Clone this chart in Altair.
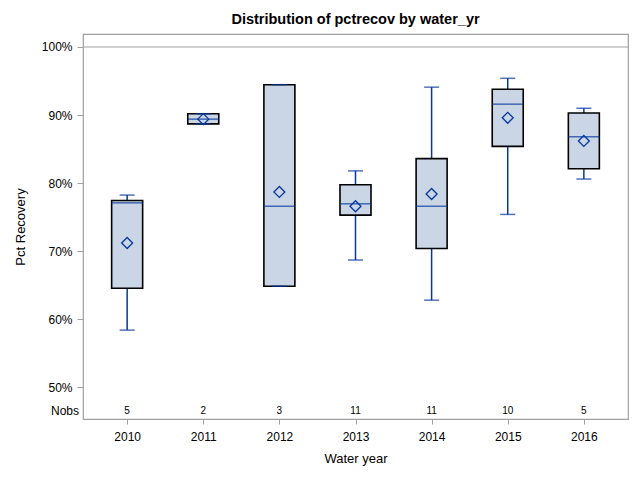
import altair as alt
import pandas as pd

years = ["2010", "2011", "2012", "2013", "2014", "2015", "2016"]
mins = [58.4, 88.7, 64.85, 68.7, 62.8, 75.4, 80.6]
q1s = [64.56, 88.7, 64.85, 75.3, 70.4, 85.4, 82.1]
medians = [77.1, 89.4, 76.6, 76.96, 76.6, 91.6, 86.8]
q3s = [77.44, 90.2, 94.46, 79.75, 83.6, 93.8, 90.3]
maxs = [78.24, 90.2, 94.46, 81.8, 94.1, 95.4, 91.0]
means = [71.2, 89.4, 78.7, 76.6, 78.4, 89.6, 86.2]
nobs = [5, 2, 3, 11, 11, 10, 5]
ytick_values = [50, 60, 70, 80, 90, 100]
ref_values = [100]

BLUE = "#05389e"
FILL = "#cad5e5"
GRAY = "#a0a0a0"
FONT = "Liberation Sans"

df = pd.DataFrame({
    "year": years, "min": mins, "q1": q1s, "median": medians,
    "q3": q3s, "max": maxs, "mean": means, "nobs": nobs,
})
ref = pd.DataFrame({"ref": ref_values})

xscale = alt.Scale(type="point", padding=0.58)
yscale = alt.Scale(domain=[45.34, 101.91], nice=False, zero=False)

x = alt.X("year:O", scale=xscale, sort=years,
          axis=alt.Axis(title="Water year", labelAngle=0, labelFontSize=12,
                        titleFontSize=13, titleFontWeight="normal",
                        tickColor=GRAY, tickSize=5, labelPadding=7,
                        titlePadding=10, domain=False, labelColor="black",
                        titleColor="black"))
y_axis = alt.Axis(title="Pct Recovery", values=ytick_values,
                  labelExpr="datum.value + '%'", grid=False, labelFontSize=12,
                  titleFontSize=13, titleFontWeight="normal", tickColor=GRAY,
                  tickSize=6, labelPadding=5, titlePadding=14, domain=False,
                  labelColor="black", titleColor="black")

base = alt.Chart(df)

refline = alt.Chart(ref).mark_rule(color=GRAY, strokeWidth=1).encode(
    y=alt.Y("ref:Q", scale=yscale, axis=y_axis)
)

whisk_low = base.mark_rule(color=BLUE, strokeWidth=1.5).encode(
    x=x, y=alt.Y("min:Q", scale=yscale), y2="q1:Q")
whisk_high = base.mark_rule(color=BLUE, strokeWidth=1.5).encode(
    x=x, y=alt.Y("q3:Q", scale=yscale), y2="max:Q")

box = base.mark_bar(size=31, fill=FILL, stroke="black", strokeWidth=1.6).encode(
    x=x, y=alt.Y("q1:Q", scale=yscale), y2="q3:Q")

median = base.mark_tick(size=31, thickness=1.5, color=BLUE).encode(
    x=x, y=alt.Y("median:Q", scale=yscale))

cap_low = base.mark_tick(size=15, thickness=1.5, color=BLUE).encode(
    x=x, y=alt.Y("min:Q", scale=yscale))
cap_high = base.mark_tick(size=15, thickness=1.5, color=BLUE).encode(
    x=x, y=alt.Y("max:Q", scale=yscale))

mean = base.mark_point(shape="diamond", filled=False, size=120, color=BLUE,
                       strokeWidth=1.3, opacity=1).encode(
    x=x, y=alt.Y("mean:Q", scale=yscale))

nobs_text = base.mark_text(fontSize=10, font=FONT, color="black").encode(
    x=x, y=alt.value(377), text="nobs:Q")

nobs_label = alt.Chart(ref).mark_text(fontSize=12, font=FONT, color="black",
                                       align="right").encode(
    x=alt.value(-4), y=alt.value(377), text=alt.value("Nobs"))

chart = alt.layer(
    refline, whisk_low, whisk_high, box, median, cap_low, cap_high, mean,
    nobs_text, nobs_label
).properties(
    width=545, height=385,
    title=alt.TitleParams("Distribution of pctrecov by water_yr", fontSize=14.5,
                          fontWeight="bold", font=FONT, anchor="middle",
                          offset=7, color="black"),
    autosize=alt.AutoSizeParams(type="none"),
    padding={"left": 75, "top": 26, "right": 4, "bottom": 52},
).configure(
    font=FONT,
).configure_view(
    stroke=GRAY, strokeWidth=1.2
).configure_axis(
    labelFont=FONT, titleFont=FONT
)

chart.save("out.html", embed_options={"renderer": "svg", "actions": False})
